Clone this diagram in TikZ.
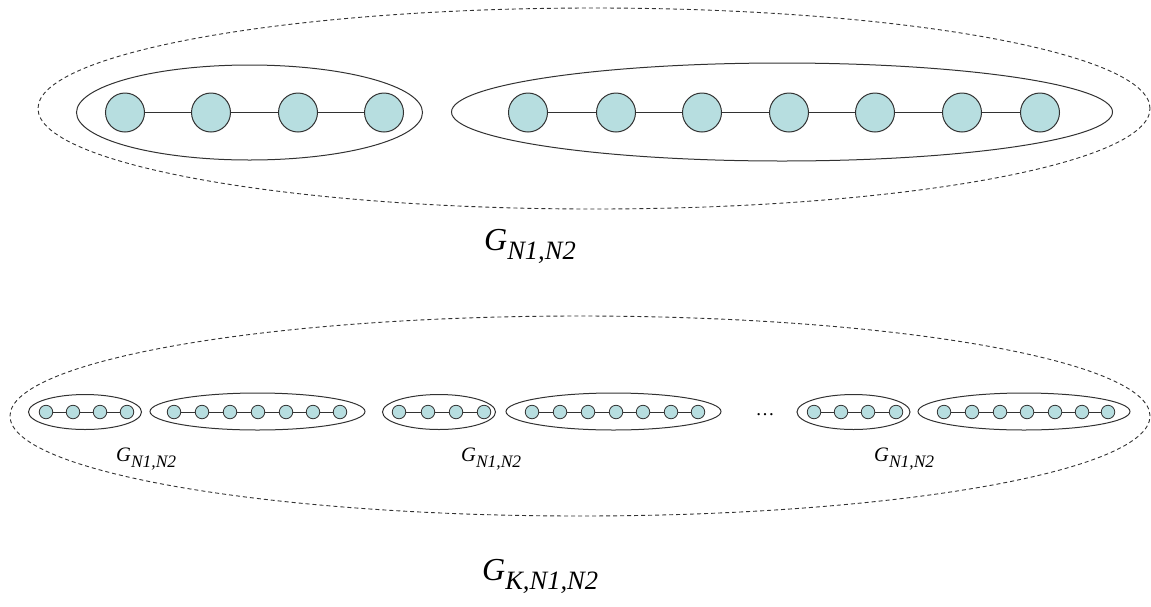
\documentclass[tikz,border=0pt]{standalone}
\usepackage{fontspec}
\setmainfont{Liberation Serif}
\usetikzlibrary{shapes.geometric}
\definecolor{nodefill}{RGB}{183,222,224}
\definecolor{edgecol}{RGB}{50,50,50}
\tikzset{
  bignode/.style={circle, draw=edgecol, fill=nodefill, line width=1pt, minimum size=39pt, inner sep=0pt},
  smallnode/.style={circle, draw=edgecol, fill=nodefill, line width=0.8pt, minimum size=13.5pt, inner sep=0pt},
  edgeline/.style={draw=edgecol, line width=0.9pt},
  grp/.style={ellipse, draw=edgecol, line width=1pt, inner sep=0pt},
  outerdash/.style={ellipse, draw=edgecol, line width=0.9pt, dash pattern=on 4pt off 3pt, inner sep=0pt},
  lbl/.style={inner sep=0pt, anchor=base west, font=\itshape}
}
\newcommand{\biglabel}[1]{\fontsize{32}{32}\selectfont G\raisebox{-9pt}{\fontsize{26.5}{26.5}\selectfont #1}}
\newcommand{\smalllabel}[1]{\fontsize{20.5}{20.5}\selectfont G\raisebox{-6pt}{\fontsize{17.5}{17.5}\selectfont #1}}
\begin{document}
\begin{tikzpicture}[x=1pt,y=-1pt]
\useasboundingbox (0,0) rectangle (1151,606);
% ---------- top: G_{N1,N2}
\node[outerdash, minimum width=1112pt, minimum height=201pt] (topouter) at (594,108.5) {};
\node[grp, minimum width=346pt, minimum height=95pt] (topL) at (249.5,112.5) {};
\node[grp, minimum width=661pt, minimum height=98pt] (topR) at (782,112) {};
\foreach \x [count=\i] in {125,211,298,384}
  \node[bignode] (tl\i) at (\x,112.5) {};
\foreach \x [count=\i] in {528,616,702,789,875,962,1040}
  \node[bignode] (tr\i) at (\x,112.5) {};
\foreach \i [remember=\i as \j (initially 1)] in {2,...,4}
  \draw[edgeline] (tl\j) -- (tl\i);
\foreach \i [remember=\i as \j (initially 1)] in {2,...,7}
  \draw[edgeline] (tr\j) -- (tr\i);
\node[lbl] (toplabel) at (484,250) {\biglabel{N1,N2}};
% ---------- bottom: G_{K,N1,N2}
\node[outerdash, minimum width=1140pt, minimum height=200pt] (botouter) at (580,416) {};
% group 1
\node[grp, minimum width=113pt, minimum height=35pt] (g1L) at (85,412) {};
\node[grp, minimum width=215pt, minimum height=37pt] (g1R) at (257.5,411.5) {};
\foreach \x [count=\i] in {46,73,100,127}
  \node[smallnode] (g1l\i) at (\x,412) {};
\foreach \x [count=\i] in {174,202,230,258,286,313,340}
  \node[smallnode] (g1r\i) at (\x,412) {};
% group 2
\node[grp, minimum width=113pt, minimum height=35pt] (g2L) at (439,412) {};
\node[grp, minimum width=215pt, minimum height=37pt] (g2R) at (613.5,411.5) {};
\foreach \x [count=\i] in {399,428,456,484}
  \node[smallnode] (g2l\i) at (\x,412) {};
\foreach \x [count=\i] in {532,560,588,616,643,671,698}
  \node[smallnode] (g2r\i) at (\x,412) {};
% group 3
\node[grp, minimum width=113pt, minimum height=35pt] (g3L) at (853.5,412) {};
\node[grp, minimum width=212pt, minimum height=37pt] (g3R) at (1024,411.5) {};
\foreach \x [count=\i] in {814,841,868,896}
  \node[smallnode] (g3l\i) at (\x,412) {};
\foreach \x [count=\i] in {944,972,1000,1027,1055,1082,1108}
  \node[smallnode] (g3r\i) at (\x,412) {};
\foreach \g in {1,2,3}{
  \foreach \i [remember=\i as \j (initially 1)] in {2,...,4}
    \draw[edgeline] (g\g l\j) -- (g\g l\i);
  \foreach \i [remember=\i as \j (initially 1)] in {2,...,7}
    \draw[edgeline] (g\g r\j) -- (g\g r\i);
}
\node[lbl] (g1label) at (116,461) {\smalllabel{N1,N2}};
\node[lbl] (g2label) at (461,461) {\smalllabel{N1,N2}};
\node[lbl] (g3label) at (874,461) {\smalllabel{N1,N2}};
\node[inner sep=0pt, anchor=base] (dots) at (765,415) {\fontsize{19}{19}\selectfont …};
\node[lbl] (botlabel) at (482,580) {\biglabel{K,N1,N2}};
\end{tikzpicture}
\end{document}
